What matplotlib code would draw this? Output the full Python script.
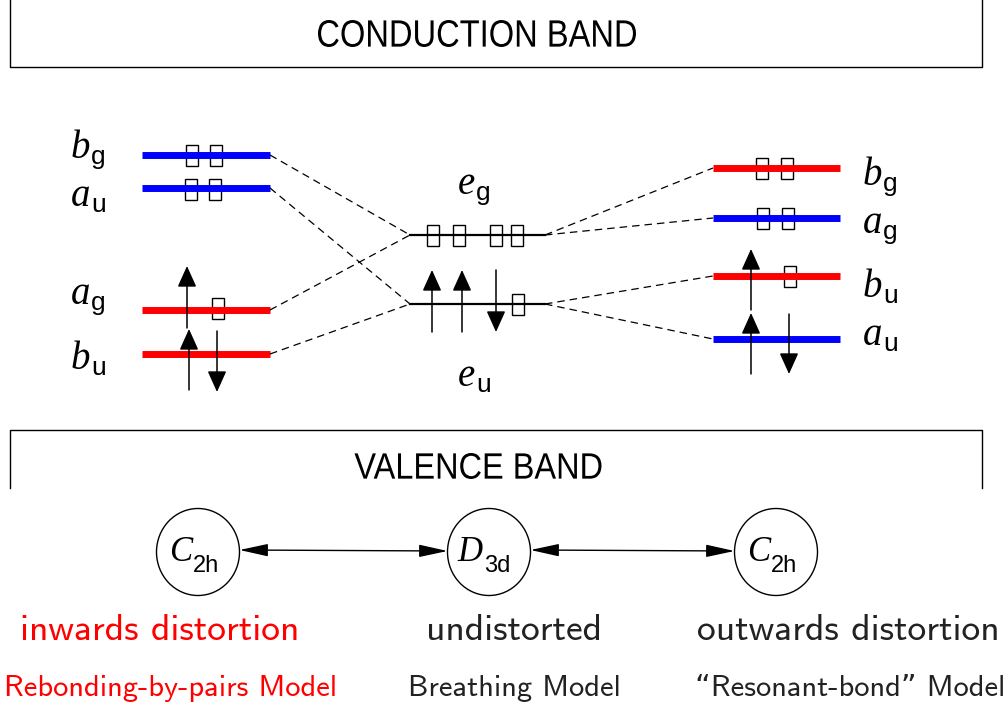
import numpy as np
import matplotlib
matplotlib.use("Agg")
import matplotlib.pyplot as plt
from matplotlib.patches import Rectangle, Ellipse, PathPatch
from matplotlib.textpath import TextPath
from matplotlib.font_manager import FontProperties
from matplotlib.transforms import Affine2D

# orbital levels (y in pixel units, top = 0)
left_names = ['b', 'a', 'a', 'b']
left_subs = ['g', 'u', 'g', 'u']
left_y = [155, 188, 310, 354]
left_col = ['blue', 'blue', 'red', 'red']
left_label_y = [158, 206, 304, 369]

mid_names = ['e', 'e']
mid_subs = ['g', 'u']
mid_y = [235, 304]
mid_label_y = [194, 386]

right_names = ['b', 'a', 'b', 'a']
right_subs = ['g', 'g', 'u', 'u']
right_y = [168, 218, 276, 339]
right_col = ['red', 'blue', 'red', 'blue']
right_label_y = [185, 233, 297, 345]

# holes drawn as empty boxes: (x centre, y)
holes = [(192, 155), (216, 155), (191, 189), (215, 189), (218, 308),
         (433, 235), (459, 235), (496, 235), (517, 235), (518, 304),
         (762, 168), (787, 168), (763, 218), (788, 218), (790, 276)]

# electron spins: (x, tail y, tip y)
spins = [(187, 328, 266), (189, 390, 329), (217, 331, 392),
         (432, 332, 270), (462, 332, 270), (496, 270, 332),
         (751, 310, 249), (751, 374, 313), (789, 314, 374)]

# dashed correlation lines: (left index, mid index) and (mid index, right index)
links_left = [(0, 0), (1, 1), (2, 0), (3, 1)]
links_right = [(0, 0), (0, 1), (1, 2), (1, 3)]

groups = ['C', 'D', 'C']
group_subs = ['2h', '3d', '2h']
group_x = [198, 489, 776]
distortions = ['inwards distortion', 'undistorted', 'outwards distortion']
models = ['Rebonding-by-pairs Model', 'Breathing Model', '\u201cResonant-bond\u201d Model']
text_col = ['red', '#222222', '#222222']
text_x = [160, 514, 848]
model_x = [170, 514, 850]

fig = plt.figure(figsize=(10.07, 7.09), dpi=100)
ax = fig.add_axes([0, 0, 1, 1])
ax.set_xlim(0, 1007)
ax.set_ylim(709, 0)
ax.axis('off')


def boxed_title(s, xc, y_top, w, h):
    # narrow, tall Helvetica-style caption scaled to fit w x h pixels
    tp = TextPath((0, 0), s, size=30, prop=FontProperties(family='Liberation Sans'))
    ext = tp.get_extents()
    sx = w / ext.width
    sy = h / ext.height
    tr = (Affine2D().translate(-ext.x0 - ext.width / 2, -ext.y0)
          .scale(sx, -sy).translate(xc, y_top + h))
    ax.add_patch(PathPatch(tr.transform_path(tp), fc='k', ec='none'))


def sym_label(x_right, base, letter, sub, fs=28, fs_sub=19, drop=6):
    ax.text(x_right, base, letter, ha='right', va='baseline', fontsize=fs,
            family='Liberation Serif', style='italic')
    ax.text(x_right + 1, base + drop, sub, ha='left', va='baseline',
            fontsize=fs_sub, family='Liberation Sans')


# band boxes
ax.plot([10, 10, 982, 982], [0, 67, 67, 0], color='k', lw=1)
boxed_title('CONDUCTION BAND', 477, 20, 318, 27)
ax.plot([10, 10, 982, 982], [488, 430, 430, 488], color='k', lw=1)
boxed_title('VALENCE BAND', 478, 453, 247, 26)

lx0, lx1 = 142, 270
mx0, mx1 = 410, 545
rx0, rx1 = 713, 840

for y, c in zip(left_y, left_col):
    ax.plot([lx0, lx1], [y, y], color=c, lw=5, solid_capstyle='butt')
for y in mid_y:
    ax.plot([mx0, mx1], [y, y], color='k', lw=1.6)
for y, c in zip(right_y, right_col):
    ax.plot([rx0, rx1], [y, y], color=c, lw=5, solid_capstyle='butt')

for i, j in links_left:
    ax.plot([lx1, mx0], [left_y[i], mid_y[j]], color='k', lw=0.9, ls=(0, (6, 4)))
for i, j in links_right:
    ax.plot([mx1, rx0], [mid_y[i], right_y[j]], color='k', lw=0.9, ls=(0, (6, 4)))

for x, y in holes:
    ax.add_patch(Rectangle((x - 6, y - 10.5), 12, 21, fill=False, ec='k', lw=1))

for x, y0, y1 in spins:
    ax.annotate('', xy=(x, y1), xytext=(x, y0),
                arrowprops=dict(arrowstyle='-|>,head_length=1.0,head_width=0.45',
                                mutation_scale=13, color='k', lw=1.1,
                                shrinkA=0, shrinkB=0))

for n, s, y in zip(left_names, left_subs, left_label_y):
    sym_label(90, y, n, s)
for n, s, y in zip(mid_names, mid_subs, mid_label_y):
    sym_label(475, y, n, s)
for n, s, y in zip(right_names, right_subs, right_label_y):
    sym_label(882, y, n, s)

# symmetry groups
for g, s, x in zip(groups, group_subs, group_x):
    ax.add_patch(Ellipse((x, 552), 83, 87, fill=False, ec='k', lw=1))
    sym_label(x - 6, 561, g, s, fs=25, fs_sub=17, drop=11)

for a, b in [(0, 1), (1, 2)]:
    ax.annotate('', xy=(group_x[b] - 41.5, 551), xytext=(group_x[a] + 41.5, 550),
                arrowprops=dict(arrowstyle='<|-|>,head_length=1.6,head_width=0.35',
                                mutation_scale=11, color='k', lw=1,
                                shrinkA=0, shrinkB=0))

for t, x, c in zip(distortions, text_x, text_col):
    ax.text(x, 630, t, ha='center', va='center', fontsize=27, color=c,
            family=['cmss10', 'DejaVu Sans'])
for t, x, c in zip(models, model_x, text_col):
    ax.text(x, 689, t, ha='center', va='center', fontsize=22, color=c,
            family=['cmss10', 'DejaVu Sans'])

fig.savefig('out.png', dpi=100)
